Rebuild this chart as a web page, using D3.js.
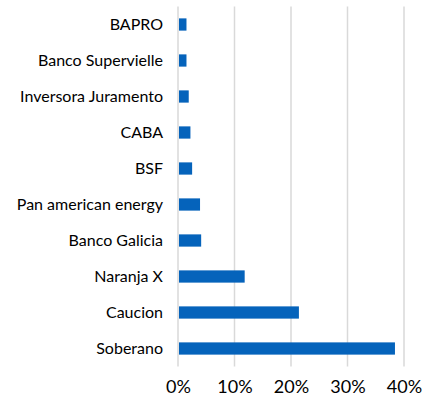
<!DOCTYPE html>
<html>
<head>
<meta charset="utf-8">
<script src="https://cdn.jsdelivr.net/npm/d3@7"></script>
<style>
  body { margin: 0; background: #fff; }
  svg { display: block; font-family: Lato, "Open Sans", sans-serif; }
</style>
</head>
<body>
<svg id="chart" width="435" height="401"></svg>
<script>
const categories = ['BAPRO', 'Banco Supervielle', 'Inversora Juramento', 'CABA', 'BSF',
  'Pan american energy', 'Banco Galicia', 'Naranja X', 'Caucion', 'Soberano'];
const values = [1.5, 1.5, 1.9, 2.2, 2.5, 3.9, 4.1, 11.8, 21.4, 38.4];
const tickValues = [0, 10, 20, 30, 40];

const plotLeft = 178;
const plotRight = 404;
const plotTop = 6.5;
const plotBottom = 366.5;

const svg = d3.select('#chart');

const xScale = d3.scaleLinear().domain([0, 40]).range([plotLeft, plotRight]);
const yScale = d3.scaleBand().domain(categories).range([plotTop, plotBottom]).paddingInner(0.66).paddingOuter(0.33);

// gridlines
svg.append('g').selectAll('line').data(tickValues).enter().append('line')
  .attr('x1', (d) => xScale(d)).attr('x2', (d) => xScale(d))
  .attr('y1', plotTop).attr('y2', plotBottom)
  .attr('stroke', '#d9d9d9').attr('stroke-width', 1.5);

// bars
svg.append('g').selectAll('rect').data(categories).enter().append('rect')
  .attr('x', xScale(0) + 1)
  .attr('y', (d) => yScale(d))
  .attr('width', (d, i) => xScale(values[i]) - xScale(0) - 1)
  .attr('height', yScale.bandwidth())
  .attr('fill', '#0563bb');

// category labels
const yAxis = d3.axisLeft(yScale).tickSize(0).tickPadding(0);
const yAxisGroup = svg.append('g').attr('transform', `translate(163, 0)`).call(yAxis);
yAxisGroup.select('.domain').remove();
yAxisGroup.selectAll('text').attr('font-size', 16).attr('fill', '#000').attr('font-family', 'Lato');

// x tick labels
const xAxis = d3.axisBottom(xScale).tickValues(tickValues).tickFormat((d) => d + '%').tickSize(0).tickPadding(0);
const xAxisGroup = svg.append('g').attr('transform', `translate(0, 380)`).call(xAxis);
xAxisGroup.select('.domain').remove();
xAxisGroup.selectAll('text').attr('font-size', 18).attr('fill', '#000').attr('font-family', 'Lato');
</script>
</body>
</html>
